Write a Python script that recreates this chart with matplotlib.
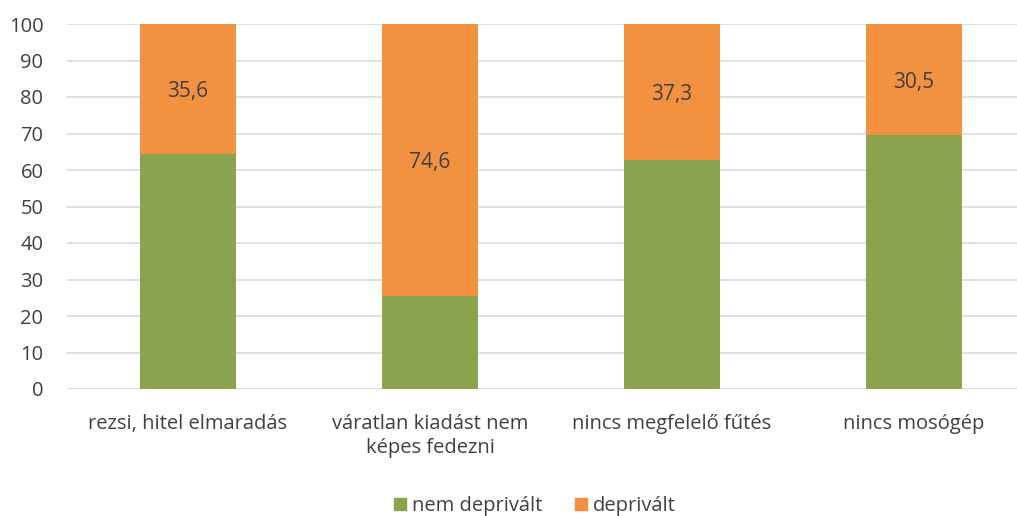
import matplotlib
matplotlib.use("Agg")
import matplotlib.pyplot as plt
from matplotlib.patches import Patch

categories = ["rezsi, hitel elmaradás", "váratlan kiadást nem\nképes fedezni",
              "nincs megfelelő fűtés", "nincs mosógép"]
nem_deprivalt = [64.4, 25.4, 62.7, 69.5]
deprivalt = [35.6, 74.6, 37.3, 30.5]
yticks = [0, 10, 20, 30, 40, 50, 60, 70, 80, 90, 100]

GREEN = "#8BA34E"
ORANGE = "#F29142"
TXT = "#404040"

plt.rcParams['font.family'] = ['Open Sans', 'DejaVu Sans']

fig = plt.figure(figsize=(10.17, 5.16), dpi=100)
ax = fig.add_axes([67/1017, 127/516, 968/1017, 365/516])

x = list(range(len(categories)))
ax.bar(x, nem_deprivalt, width=0.4, color=GREEN, zorder=3, label="nem deprivált")
ax.bar(x, deprivalt, width=0.4, bottom=nem_deprivalt, color=ORANGE, zorder=3, label="deprivált")

for xi, b, v in zip(x, nem_deprivalt, deprivalt):
    ax.text(xi, b + v / 2, f"{v:.1f}".replace(".", ","), ha="center", va="center_baseline",
            fontsize=15, color=TXT, zorder=4)

ax.set_xlim(-0.5, 3.5)
ax.set_ylim(0, 100)
ax.set_yticks(yticks)
ax.set_yticklabels([str(t) for t in yticks])
ax.set_xticks(x)
ax.set_xticklabels(categories, linespacing=1.3)
ax.tick_params(axis="both", length=0, labelsize=14.5, colors=TXT)
ax.tick_params(axis="y", pad=17)
ax.tick_params(axis="x", pad=18)
ax.grid(axis="y", color="#D9D9D9", linewidth=1.2, zorder=0)
for s in ax.spines.values():
    s.set_visible(False)

handles = [Patch(color=GREEN, label="nem deprivált"), Patch(color=ORANGE, label="deprivált")]
fig.legend(handles=handles, loc="center", bbox_to_anchor=(535/1017, 1 - 506/516), ncol=2,
           frameon=False, fontsize=14.5, handlelength=0.6, handleheight=0.6,
           handletextpad=0.3, columnspacing=1.6, labelcolor=TXT)

fig.savefig("out.png", dpi=100)
